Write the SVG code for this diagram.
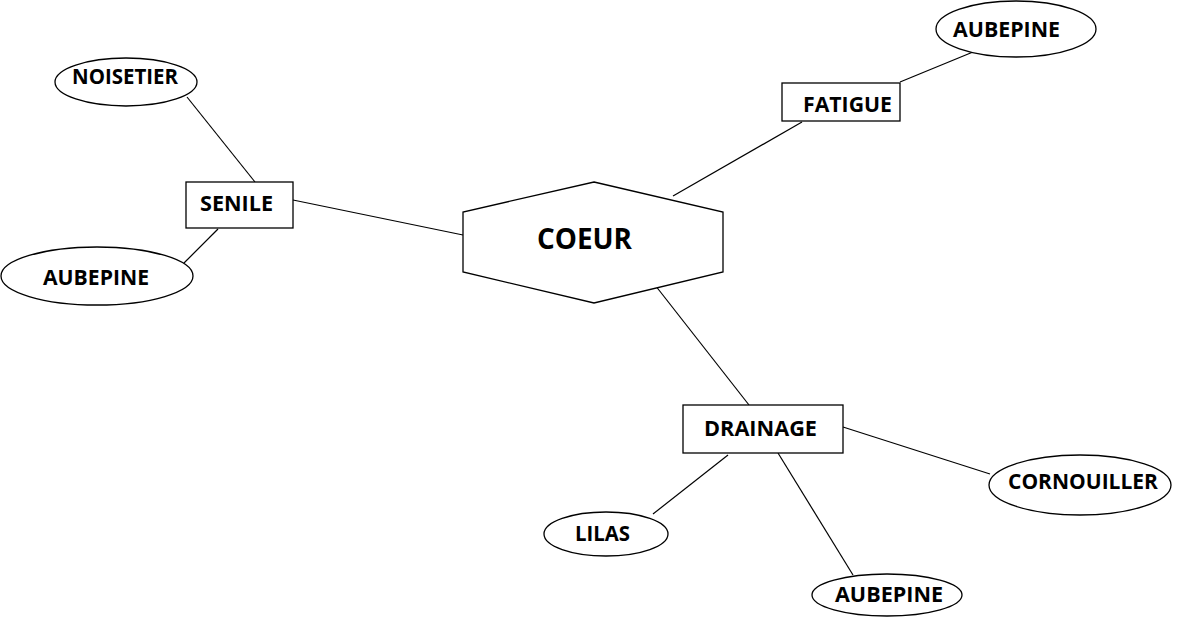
<svg xmlns="http://www.w3.org/2000/svg" width="1187" height="617" viewBox="0 0 1187 617">
<style>
.shape{fill:#fff;stroke:#000;stroke-width:1.3}
.lbl{font-family:"Open Sans","Liberation Sans",sans-serif;font-weight:bold;font-size:20.5px;fill:#000}
.big{font-size:29px}
.conn line{stroke:#000;stroke-width:1.2}
</style>
<rect width="1187" height="617" fill="#fff"/>
<g class="conn">
<line x1="187" y1="97" x2="255" y2="182"/>
<line x1="218" y1="229" x2="184" y2="263"/>
<line x1="293" y1="200" x2="463" y2="235"/>
<line x1="673" y1="196" x2="802" y2="122"/>
<line x1="900" y1="82" x2="973" y2="52"/>
<line x1="655" y1="285" x2="749" y2="405"/>
<line x1="843" y1="427" x2="990" y2="474"/>
<line x1="728" y1="455" x2="653" y2="514"/>
<line x1="778" y1="453" x2="853" y2="575"/>
</g>
<g id="coeur">
<polygon class="shape" points="594,182 723,212 723,272 594,303 463,272 463,212"/>
<text class="lbl big" x="537" y="249" textLength="95" lengthAdjust="spacingAndGlyphs">COEUR</text>
</g>
<g id="senile">
<rect class="shape" x="186" y="182" width="107" height="46"/>
<text class="lbl" x="200" y="211" textLength="73" lengthAdjust="spacingAndGlyphs">SENILE</text>
</g>
<g id="noisetier">
<ellipse class="shape" cx="126" cy="82" rx="71" ry="24"/>
<text class="lbl" x="72" y="84" textLength="106" lengthAdjust="spacingAndGlyphs">NOISETIER</text>
</g>
<g id="aubepine-senile">
<ellipse class="shape" cx="97" cy="276" rx="96" ry="29"/>
<text class="lbl" x="43" y="285" textLength="106" lengthAdjust="spacingAndGlyphs">AUBEPINE</text>
</g>
<g id="fatigue">
<rect class="shape" x="782" y="83" width="118" height="38"/>
<text class="lbl" x="803" y="112" textLength="89" lengthAdjust="spacingAndGlyphs">FATIGUE</text>
</g>
<g id="aubepine-fatigue">
<ellipse class="shape" cx="1016" cy="29" rx="80" ry="28"/>
<text class="lbl" x="953" y="37" textLength="107" lengthAdjust="spacingAndGlyphs">AUBEPINE</text>
</g>
<g id="drainage">
<rect class="shape" x="683" y="405" width="160" height="48"/>
<text class="lbl" x="704" y="436" textLength="113" lengthAdjust="spacingAndGlyphs">DRAINAGE</text>
</g>
<g id="cornouiller">
<ellipse class="shape" cx="1080" cy="485" rx="91" ry="30"/>
<text class="lbl" x="1008" y="489" textLength="150" lengthAdjust="spacingAndGlyphs">CORNOUILLER</text>
</g>
<g id="lilas">
<ellipse class="shape" cx="606" cy="534" rx="62" ry="22"/>
<text class="lbl" x="575" y="541" textLength="55" lengthAdjust="spacingAndGlyphs">LILAS</text>
</g>
<g id="aubepine-drainage">
<ellipse class="shape" cx="887" cy="595" rx="75" ry="21"/>
<text class="lbl" x="835" y="602" textLength="108" lengthAdjust="spacingAndGlyphs">AUBEPINE</text>
</g>
</svg>
